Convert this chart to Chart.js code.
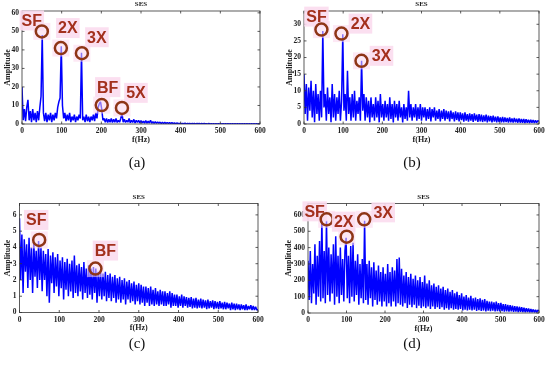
<!DOCTYPE html>
<html><head><meta charset="utf-8">
<script src="https://cdn.jsdelivr.net/npm/chart.js@4.4.1/dist/chart.umd.min.js"></script>
<style>
body{margin:0;background:#fff;width:550px;height:365px;overflow:hidden;position:relative}
canvas{position:absolute;display:block}
</style></head><body>
<canvas id="ca" width="275" height="182" style="left:0;top:0"></canvas>
<canvas id="cb" width="275" height="182" style="left:275px;top:0"></canvas>
<canvas id="cc" width="275" height="183" style="left:0;top:182px"></canvas>
<canvas id="cd" width="275" height="183" style="left:275px;top:182px"></canvas>
<script>
// ---- data (frequency resolution of the series, Hz) ----
const freqStep = 3;
const xTicks = [0,100,200,300,400,500,600];
const yTicksA = [0,10,20,30,40,50,60];
const yTicksB = [0,5,10,15,20,25,30];
const yTicksC = [0,1,2,3,4,5,6];
const yTicksD = [0,100,200,300,400,500,600];

const sesA = [
20,2,8,1.5,9,13,2,7,1,8,
2,6,1,7,2,9,15,48,6,1.5,
6,1,5,2,6,1,5,2,6,3,
9,12,14,42,10,3,6,1.5,5,2,
6,1,4,2,5,1,4,2,5,3,
38.5,2,4,1,5,1.5,4,1,4,2,
5,1.5,6,3,9,11,12,8,2,3,
1,3,0.8,2.5,1,3,0.8,2.5,1,3,
0.8,2,1,3,6,1,2.5,0.8,2,1,
3,0.7,2,0.8,2.5,0.6,2,0.8,2,0.6,
1.8,0.6,1.6,0.5,1.8,0.5,1.5,0.5,2,0.4,
1.3,0.4,1.2,0.4,1.1,0.4,1,0.3,0.9,0.3,
0.9,0.3,0.8,0.3,0.7,0.3,0.7,0.2,0.6,0.2,
0.5,0.4,0.1,0.45,0.1,0.35,0.1,0.4,0.08,0.3,
0.1,0.35,0.08,0.3,0.1,0.3,0.08,0.28,0.1,0.25,
0.08,0.25,0.06,0.22,0.08,0.2,0.06,0.22,0.06,0.2,
0.05,0.18,0.06,0.2,0.05,0.18,0.05,0.16,0.05,0.18,
0.04,0.15,0.05,0.16,0.04,0.14,0.04,0.15,0.04,0.13,
0.04,0.12,0.03,0.13,0.04,0.12,0.03,0.11,0.03,0.12,
0.03,0.1,0.03,0.11,0.03,0.1,0.03,0.09,0.03,0.1,
0.05];

const sesB = [
15,3,12,1,11,4,13,2,10,0.5,
12,3,9,1,10,2,28,5,9,1,
11,3,8,0.5,12,2,9,1,8,3,
10,1,7,27,4,9,1,16,3,8,
1,9,2,10,1,7,3,8,1,19,
4,9,1,8,2,7,0.5,8,2,6,
1,8,2,7,0.5,9,2,6,1,7,
2,6,1,8,1.5,6,0.5,7,2,6,
1,7,2,5,0.5,6,1.5,5,1,10,
2,6,1,5,2,6,1,5,1.5,6,
1,5,2,5,1,4.5,1.5,5,0.8,4.5,
2,5,1,4,1.5,4.5,0.8,4,1.5,4.5,
1,4,1.5,3.8,0.8,4,1.5,3.5,0.8,3.8,
1.2,3.5,0.8,3.5,1.2,3.2,0.7,3.5,1,3,
0.7,3.2,1,3,0.6,3.2,1,2.8,0.6,3,
0.8,2.8,0.6,2.6,0.8,2.8,0.5,2.5,0.8,2.4,
0.5,2.5,0.7,2.2,0.5,2.3,0.6,2,0.5,2.1,
0.5,2,0.6,1.8,0.4,2,0.5,1.7,0.4,1.8,
0.5,1.6,0.4,1.7,0.4,1.5,0.4,1.5,0.3,1.4,
0.4,1.3,0.3,1.3,0.4,1.2,0.3,1.1,0.4,1,
0.8];

const sesC = [
5.8,2,4.8,1.2,4.5,2.5,4.2,1.5,4.6,2,
4,1.2,4.3,2.2,3.8,1.5,4.4,2,4,1.3,
3.8,2,3.6,1,3.9,0.6,3.5,1.8,3.7,1.2,
3.4,1.6,3.6,1,3.2,1.5,3.4,0.8,3.1,1.4,
3.3,1,3,1.3,3.2,0.9,3.5,1.2,2.9,1,
3,1.3,2.8,0.8,3.1,1.2,2.7,0.9,2.9,1.1,
2.7,0.8,2.8,1.2,2.7,0.6,2.5,1,2.6,0.8,
2.4,1,2.5,0.7,2.3,0.9,2.4,0.7,2.2,0.9,
2.3,0.6,2.1,0.8,2.2,0.6,2,0.8,2.1,0.5,
1.9,0.8,2,0.6,1.8,0.7,1.9,0.5,1.7,0.7,
1.8,0.5,1.7,0.6,1.6,0.4,1.6,0.6,1.5,0.4,
1.6,0.5,1.4,0.4,1.5,0.5,1.3,0.4,1.4,0.5,
1.3,0.4,1.3,0.4,1.2,0.5,1.3,0.3,1.2,0.4,
1.1,0.4,1.1,0.3,1,0.4,1.1,0.3,1,0.4,
0.95,0.3,0.9,0.35,0.95,0.25,0.85,0.3,0.9,0.25,
0.8,0.3,0.85,0.25,0.8,0.3,0.75,0.2,0.8,0.25,
0.7,0.3,0.75,0.2,0.7,0.25,0.65,0.2,0.7,0.25,
0.6,0.2,0.65,0.2,0.6,0.25,0.55,0.15,0.6,0.2,
0.55,0.15,0.55,0.2,0.5,0.15,0.5,0.2,0.45,0.15,
0.5,0.15,0.4,0.2,0.45,0.15,0.4,0.15,0.35,0.15,
0.2];

const sesD = [
320,80,380,60,300,120,420,50,350,100,
440,70,580,90,380,60,565,110,400,70,
360,120,420,50,470,100,350,60,400,110,
330,70,380,460,90,350,60,410,100,430,
70,320,110,360,50,300,90,330,60,565,
80,300,50,320,90,280,40,310,80,260,
50,290,70,250,40,280,70,240,40,300,
60,250,40,280,70,260,40,330,60,340,
50,270,40,230,60,250,30,220,50,240,
35,210,50,230,30,200,45,220,30,190,
40,230,30,180,40,200,25,170,40,180,
25,160,35,170,25,150,35,160,20,140,
30,150,20,130,30,140,20,120,25,130,
20,110,25,120,15,100,20,110,15,95,
20,105,15,90,20,95,12,85,18,90,
12,80,15,85,10,75,15,70,12,70,
15,65,10,70,12,60,10,62,12,55,
8,55,10,50,8,48,10,45,7,42,
8,40,6,38,7,35,6,32,5,30,
6,28,5,25,5,22,4,20,4,18,
12];

// marked characteristic frequencies (label, Hz, amplitude)
const annLabelsA = ['SF','2X','3X','BF','5X'];
const annFreqsA  = [50,98,151,201,252];
const annAmpsA   = [50,41,38.2,10.2,8.7];
const annLabelsB = ['SF','2X','3X'];
const annFreqsB  = [44.5,95.6,146.8];
const annAmpsB   = [28.4,27.2,19];
const annLabelsC = ['SF','BF'];
const annFreqsC  = [49.5,191];
const annAmpsC   = [4.46,2.7];
const annLabelsD = ['SF','2X','3X'];
const annFreqsD  = [48.5,100.5,146];
const annAmpsD   = [573,467,573];

// ---- layout / styles ----
const annOffsetsA = [[-10,-11],[7,-20],[15,-16],[6,-18],[14,-15]];
const annOffsetsB = [[-5,-13],[19,-10],[20,-5]];
const annOffsetsC = [[-3,-20],[10,-18]];
const annOffsetsD = [[-12,-8],[-3,-15],[19,-7]];

const decoPlugin = {
  id:'deco',
  afterDatasetsDraw(chart, args, o){
    const ctx = chart.ctx, a = chart.chartArea, xs = chart.scales.x, ys = chart.scales.y;
    ctx.save();
    ctx.strokeStyle = '#333'; ctx.lineWidth = 0.8;
    ctx.strokeRect(a.left, a.top, a.right - a.left, a.bottom - a.top);
    ctx.beginPath();
    xs.ticks.forEach(t => { const px = xs.getPixelForValue(t.value);
      ctx.moveTo(px, a.bottom); ctx.lineTo(px, a.bottom - 2.5);
      ctx.moveTo(px, a.top); ctx.lineTo(px, a.top + 2.5); });
    ys.ticks.forEach(t => { const py = ys.getPixelForValue(t.value);
      ctx.moveTo(a.left, py); ctx.lineTo(a.left + 2.5, py);
      ctx.moveTo(a.right, py); ctx.lineTo(a.right - 2.5, py); });
    ctx.stroke();
    ctx.fillStyle = '#222'; ctx.textAlign = 'center'; ctx.textBaseline = 'middle';
    ctx.font = 'bold 7px "Liberation Serif"';
    ctx.fillText(o.title, (a.left + a.right) / 2, a.top - 6.5);
    ctx.font = 'bold 8px "Liberation Serif"';
    ctx.fillText(o.xlabel, (a.left + a.right) / 2, a.bottom + 15.5);
    ctx.save(); ctx.translate(o.ylabelX, (a.top + a.bottom) / 2); ctx.rotate(-Math.PI / 2);
    ctx.fillText(o.ylabel, 0, 0); ctx.restore();
    ctx.fillStyle = '#111'; ctx.font = '15px "Liberation Serif"';
    ctx.fillText(o.letter, 137, o.letterY);
    // annotations
    o.labels.forEach((lab, k) => {
      const cx = xs.getPixelForValue(o.freqs[k]), cy = ys.getPixelForValue(o.amps[k]);
      const tx = cx + o.offsets[k][0], ty = cy + o.offsets[k][1];
      ctx.fillStyle = 'rgba(251,214,236,0.55)';
      ctx.fillRect(cx - 8.5, cy - 8.5, 17, 17);
      ctx.font = 'bold 16px "Liberation Sans"';
      const w = ctx.measureText(lab).width;
      ctx.fillStyle = 'rgba(251,220,238,0.9)';
      ctx.fillRect(tx - w / 2 - 2, ty - 10, w + 4, 20);
      ctx.fillStyle = '#a3301d'; ctx.textAlign = 'center'; ctx.textBaseline = 'middle';
      ctx.fillText(lab, tx, ty + 1);
      ctx.beginPath(); ctx.arc(cx, cy, 6, 0, Math.PI * 2);
      ctx.lineWidth = 2.5; ctx.strokeStyle = '#8e3516'; ctx.stroke();
    });
    ctx.restore();
  }
};

const tickFont = {family:'Liberation Serif', size:7.5, weight:'bold'};

function makePanel(id, values, yMax, yTicks, area, deco){
  const cv = document.getElementById(id);
  const W = cv.width, H = cv.height;
  return new Chart(cv, {
    type:'line',
    data:{datasets:[{
      data: values.map((v, i) => ({x: i * freqStep, y: v})),
      borderColor:'#0000ff', borderWidth:1.5, borderJoinStyle:'bevel',
      pointRadius:0, tension:0, fill:false
    }]},
    options:{
      responsive:false, animation:false, devicePixelRatio:1,
      layout:{padding:{left:0, top:area.top, right:W - area.right, bottom:H - area.bottom - 14}},
      plugins:{legend:{display:false}, tooltip:{enabled:false}, deco:deco},
      scales:{
        x:{type:'linear', min:0, max:600,
           afterBuildTicks:s => { s.ticks = xTicks.map(v => ({value:v})); },
           afterFit:s => { s.height = 14; },
           grid:{display:false, drawTicks:false}, border:{display:false},
           ticks:{font:tickFont, color:'#222', padding:3, maxRotation:0, autoSkip:false}},
        y:{type:'linear', min:0, max:yMax,
           afterBuildTicks:s => { s.ticks = yTicks.map(v => ({value:v})); },
           afterFit:s => { s.width = area.left; },
           grid:{display:false, drawTicks:false}, border:{display:false},
           ticks:{font:tickFont, color:'#222', padding:3, autoSkip:false}}
      }
    },
    plugins:[decoPlugin]
  });
}

makePanel('ca', sesA, 61, yTicksA, {left:22, right:260, top:11, bottom:124},
  {title:'SES', xlabel:'f(Hz)', ylabel:'Amplitude', ylabelX:8, letter:'(a)', letterY:163,
   labels:annLabelsA, freqs:annFreqsA, amps:annAmpsA, offsets:annOffsetsA});
makePanel('cb', sesB, 34, yTicksB, {left:29, right:264, top:11, bottom:124},
  {title:'SES', xlabel:'f(Hz)', ylabel:'Amplitude', ylabelX:15, letter:'(b)', letterY:163,
   labels:annLabelsB, freqs:annFreqsB, amps:annAmpsB, offsets:annOffsetsB});
makePanel('cc', sesC, 6.7, yTicksC, {left:19.5, right:258, top:21.5, bottom:130.5},
  {title:'SES', xlabel:'f(Hz)', ylabel:'Amplitude', ylabelX:8, letter:'(c)', letterY:162,
   labels:annLabelsC, freqs:annFreqsC, amps:annAmpsC, offsets:annOffsetsC});
makePanel('cd', sesD, 670, yTicksD, {left:33, right:264, top:21.5, bottom:131},
  {title:'SES', xlabel:'f(Hz)', ylabel:'Amplitude', ylabelX:14, letter:'(d)', letterY:162,
   labels:annLabelsD, freqs:annFreqsD, amps:annAmpsD, offsets:annOffsetsD});
</script>
</body></html>
